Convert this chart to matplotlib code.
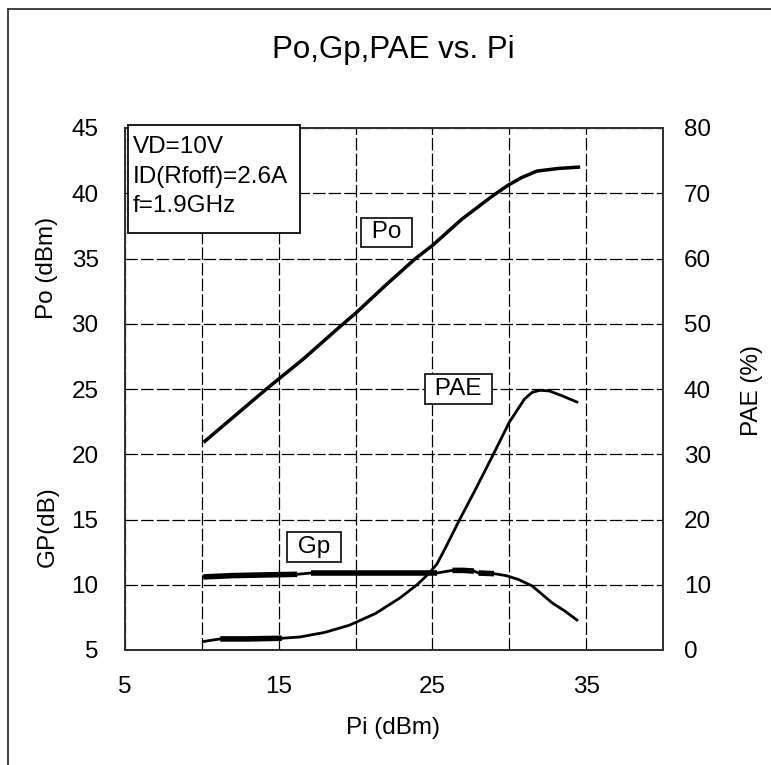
import numpy as np
import matplotlib
matplotlib.use("Agg")
import matplotlib.pyplot as plt
from matplotlib.lines import Line2D
from matplotlib.patches import Rectangle

plt.rcParams['font.family'] = ['Liberation Sans', 'DejaVu Sans']

# Po curve (left axis, dBm)
po_pi = [10.2, 12.0, 14.2, 16.6, 19.2, 20.0, 22.0, 23.9, 25.0, 26.9, 28.8, 29.9, 30.8, 31.8, 33.2, 34.5]
po = [21.0, 22.8, 25.0, 27.3, 30.0, 30.8, 33.0, 35.0, 36.0, 38.0, 39.7, 40.6, 41.2, 41.7, 41.9, 42.0]

# Gp curve (left axis, dB)
gp_pi = [10.1, 12.0, 14.0, 16.2, 17.1, 19.0, 21.0, 23.0, 25.3, 26.3, 27.0, 27.7, 28.0, 29.0,
         29.8, 30.6, 31.5, 32.2, 32.8, 33.6, 34.4]
gp = [10.6, 10.7, 10.75, 10.8, 10.9, 10.9, 10.9, 10.9, 10.9, 11.1, 11.1, 11.05, 10.9, 10.85,
      10.7, 10.4, 9.9, 9.2, 8.6, 8.0, 7.3]
gp_thick = [(10.1, 16.2), (17.1, 25.3), (26.3, 27.7), (28.0, 29.0)]

# PAE curve (right axis, %)
pae_pi = [10.1, 11.2, 13.0, 15.2, 16.4, 18.0, 19.6, 21.3, 22.9, 24.0, 24.8, 25.3, 25.9, 26.75,
          27.8, 28.9, 30.0, 31.0, 31.5, 32.0, 32.6, 33.5, 34.4]
pae = [1.3, 1.7, 1.7, 1.8, 2.0, 2.7, 3.8, 5.6, 8.0, 10.0, 11.8, 13.2, 15.9, 19.9,
       24.6, 29.7, 34.9, 38.5, 39.5, 39.8, 39.7, 38.9, 38.0]
pae_thick = [(11.2, 15.2)]

x_major = [5, 15, 25, 35]
x_minor = [10, 20, 30]
y_left = [5, 10, 15, 20, 25, 30, 35, 40, 45]
y_right = [0, 10, 20, 30, 40, 50, 60, 70, 80]

info_lines = ["VD=10V", "ID(Rfoff)=2.6A", "f=1.9GHz"]

W, H = 771, 765
FS = 17.5
INK = '#1a1a1a'


def fx(px):
    return px / W


def fy(py):
    return 1 - py / H


def thick_parts(ax, xs, ys, ranges):
    xs = np.asarray(xs)
    ys = np.asarray(ys)
    for lo, hi in ranges:
        m = (xs >= lo) & (xs <= hi)
        ax.plot(xs[m], ys[m], color='black', lw=4.0, solid_capstyle='butt', zorder=3)


fig = plt.figure(figsize=(W / 100, H / 100), dpi=100)
ax = fig.add_axes([fx(125), fy(650), fx(663) - fx(125), fy(128) - fy(650)])
ax2 = ax.twinx()

ax.set_xlim(5, 40)
ax.set_ylim(5, 45)
ax2.set_ylim(0, 80)

ax.set_xticks(x_major)
ax.set_xticks(x_minor, minor=True)
ax.set_yticks(y_left)
ax2.set_yticks(y_right)

ax.grid(True, which='both', color='black', lw=0.9, linestyle=(0, (10, 2.5)))
ax.set_axisbelow(True)

ax.tick_params(axis='both', which='both', length=0, labelsize=FS, pad=19)
ax2.tick_params(axis='y', length=0, labelsize=FS, pad=15)

for a in (ax, ax2):
    for sp in a.spines.values():
        sp.set_linewidth(1.4)
        sp.set_color('#333333')

# curves
ax.plot(po_pi, po, color='black', lw=2.5, zorder=3, solid_joinstyle='round')
ax.plot(gp_pi, gp, color='black', lw=2.0, zorder=3, solid_joinstyle='round')
thick_parts(ax, gp_pi, gp, gp_thick)
ax2.plot(pae_pi, pae, color='black', lw=2.0, zorder=3, solid_joinstyle='round')
thick_parts(ax2, pae_pi, pae, pae_thick)

# curve labels
box = dict(boxstyle='square,pad=0.15', fc='white', ec=INK, lw=1.3)
ax2.text(22.0, 37.0, ' Po ', transform=ax.transData, ha='center', va='center',
         fontsize=FS, bbox=box, zorder=6)
ax2.text(26.7, 25.0, ' PAE ', transform=ax.transData, ha='center', va='center',
         fontsize=FS, bbox=box, zorder=6)
ax2.text(17.3, 12.9, ' Gp ', transform=ax.transData, ha='center', va='center',
         fontsize=FS, bbox=box, zorder=6)

# condition box
fig.add_artist(Rectangle((fx(128), fy(233)), fx(300) - fx(128), fy(125) - fy(233),
                         transform=fig.transFigure, fc='white', ec=INK, lw=1.4, zorder=5))
for i, line in enumerate(info_lines):
    fig.text(fx(133), fy(153 + 29.5 * i), line, fontsize=FS, ha='left', va='baseline', zorder=6)

# title and axis labels
fig.text(fx(393), fy(50), "Po,Gp,PAE vs. Pi", fontsize=22.5, ha='center', va='center')
fig.text(fx(393), fy(728), "Pi (dBm)", fontsize=FS, ha='center', va='center')
fig.text(fx(47), fy(268), "Po (dBm)", fontsize=FS, rotation=90, ha='center', va='center')
fig.text(fx(48), fy(527), "GP(dB)", fontsize=FS, rotation=90, ha='center', va='center')
fig.text(fx(752), fy(390), "PAE (%)", fontsize=FS, rotation=90, ha='center', va='center')

# outer frame (left and top edges visible)
fig.add_artist(Line2D([fx(8), fx(8)], [fy(9), 0], color='#333333', lw=1.3))
fig.add_artist(Line2D([fx(8), 1], [fy(9), fy(9)], color='#333333', lw=1.3))

fig.savefig("out.png", dpi=100)
